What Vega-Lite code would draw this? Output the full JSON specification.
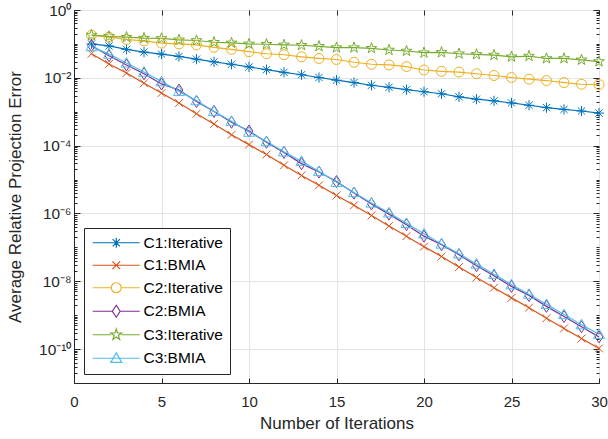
{
 "$schema": "https://vega.github.io/schema/vega-lite/v6.json",
 "width": 525, "height": 373,
 "autosize": {"type": "none"},
 "padding": {"left": 74, "top": 10, "right": 9, "bottom": 56},
 "background": "white",
 "config": {
  "font": "Liberation Sans",
  "view": {"stroke": "#262626", "strokeWidth": 1},
  "axis": {"domainColor": "#262626", "tickColor": "#262626", "labelColor": "#262626", "titleColor": "#262626", "labelFont": "Liberation Sans", "titleFont": "Liberation Sans", "labelFontSize": 15, "titleFontSize": 17, "titleFontWeight": "normal", "gridColor": "#e3e3e3", "gridWidth": 1, "labelFlush": false, "labelOverlap": false},
  "legend": {"orient": "none", "legendX": 10, "legendY": 218, "strokeColor": "#262626", "fillColor": "white", "padding": 7, "labelFontSize": 15.5, "labelFont": "Liberation Sans", "labelColor": "#000000", "symbolSize": 144, "labelOffset": 37, "rowPadding": 5.5, "symbolFillColor": "transparent", "symbolStrokeWidth": 1.2, "symbolOpacity": 1, "labelExpr": "datum.label + ' '"}
 },
 "data": {"values": [
  {"series":"C1:Iterative","iter":1,"err":1.00e-1},{"series":"C1:Iterative","iter":2,"err":8.71e-2},{"series":"C1:Iterative","iter":3,"err":6.92e-2},{"series":"C1:Iterative","iter":4,"err":5.75e-2},{"series":"C1:Iterative","iter":5,"err":5.01e-2},{"series":"C1:Iterative","iter":6,"err":4.27e-2},{"series":"C1:Iterative","iter":7,"err":3.55e-2},{"series":"C1:Iterative","iter":8,"err":2.95e-2},{"series":"C1:Iterative","iter":9,"err":2.51e-2},{"series":"C1:Iterative","iter":10,"err":2.09e-2},{"series":"C1:Iterative","iter":11,"err":1.74e-2},{"series":"C1:Iterative","iter":12,"err":1.45e-2},{"series":"C1:Iterative","iter":13,"err":1.23e-2},{"series":"C1:Iterative","iter":14,"err":1.02e-2},{"series":"C1:Iterative","iter":15,"err":8.51e-3},{"series":"C1:Iterative","iter":16,"err":7.24e-3},{"series":"C1:Iterative","iter":17,"err":6.03e-3},{"series":"C1:Iterative","iter":18,"err":5.25e-3},{"series":"C1:Iterative","iter":19,"err":4.47e-3},{"series":"C1:Iterative","iter":20,"err":3.89e-3},{"series":"C1:Iterative","iter":21,"err":3.39e-3},{"series":"C1:Iterative","iter":22,"err":2.75e-3},{"series":"C1:Iterative","iter":23,"err":2.34e-3},{"series":"C1:Iterative","iter":24,"err":2.09e-3},{"series":"C1:Iterative","iter":25,"err":1.82e-3},{"series":"C1:Iterative","iter":26,"err":1.55e-3},{"series":"C1:Iterative","iter":27,"err":1.32e-3},{"series":"C1:Iterative","iter":28,"err":1.17e-3},{"series":"C1:Iterative","iter":29,"err":1.05e-3},{"series":"C1:Iterative","iter":30,"err":9.12e-4},
  {"series":"C1:BMIA","iter":1,"err":5.13e-2},{"series":"C1:BMIA","iter":2,"err":2.57e-2},{"series":"C1:BMIA","iter":3,"err":1.38e-2},{"series":"C1:BMIA","iter":4,"err":6.92e-3},{"series":"C1:BMIA","iter":5,"err":3.55e-3},{"series":"C1:BMIA","iter":6,"err":1.82e-3},{"series":"C1:BMIA","iter":7,"err":8.71e-4},{"series":"C1:BMIA","iter":8,"err":4.37e-4},{"series":"C1:BMIA","iter":9,"err":2.09e-4},{"series":"C1:BMIA","iter":10,"err":1.07e-4},{"series":"C1:BMIA","iter":11,"err":5.50e-5},{"series":"C1:BMIA","iter":12,"err":2.63e-5},{"series":"C1:BMIA","iter":13,"err":1.32e-5},{"series":"C1:BMIA","iter":14,"err":6.76e-6},{"series":"C1:BMIA","iter":15,"err":3.39e-6},{"series":"C1:BMIA","iter":16,"err":1.74e-6},{"series":"C1:BMIA","iter":17,"err":8.71e-7},{"series":"C1:BMIA","iter":18,"err":4.27e-7},{"series":"C1:BMIA","iter":19,"err":2.14e-7},{"series":"C1:BMIA","iter":20,"err":1.05e-7},{"series":"C1:BMIA","iter":21,"err":5.37e-8},{"series":"C1:BMIA","iter":22,"err":2.63e-8},{"series":"C1:BMIA","iter":23,"err":1.29e-8},{"series":"C1:BMIA","iter":24,"err":6.46e-9},{"series":"C1:BMIA","iter":25,"err":3.24e-9},{"series":"C1:BMIA","iter":26,"err":1.66e-9},{"series":"C1:BMIA","iter":27,"err":8.13e-10},{"series":"C1:BMIA","iter":28,"err":4.07e-10},{"series":"C1:BMIA","iter":29,"err":2.04e-10},{"series":"C1:BMIA","iter":30,"err":1.05e-10},
  {"series":"C2:Iterative","iter":1,"err":1.82e-1},{"series":"C2:Iterative","iter":2,"err":1.58e-1},{"series":"C2:Iterative","iter":3,"err":1.35e-1},{"series":"C2:Iterative","iter":4,"err":1.23e-1},{"series":"C2:Iterative","iter":5,"err":1.05e-1},{"series":"C2:Iterative","iter":6,"err":1.00e-1},{"series":"C2:Iterative","iter":7,"err":9.33e-2},{"series":"C2:Iterative","iter":8,"err":7.94e-2},{"series":"C2:Iterative","iter":9,"err":6.92e-2},{"series":"C2:Iterative","iter":10,"err":5.89e-2},{"series":"C2:Iterative","iter":11,"err":5.13e-2},{"series":"C2:Iterative","iter":12,"err":4.79e-2},{"series":"C2:Iterative","iter":13,"err":4.17e-2},{"series":"C2:Iterative","iter":14,"err":3.72e-2},{"series":"C2:Iterative","iter":15,"err":3.47e-2},{"series":"C2:Iterative","iter":16,"err":2.88e-2},{"series":"C2:Iterative","iter":17,"err":2.51e-2},{"series":"C2:Iterative","iter":18,"err":2.40e-2},{"series":"C2:Iterative","iter":19,"err":2.14e-2},{"series":"C2:Iterative","iter":20,"err":1.70e-2},{"series":"C2:Iterative","iter":21,"err":1.55e-2},{"series":"C2:Iterative","iter":22,"err":1.48e-2},{"series":"C2:Iterative","iter":23,"err":1.32e-2},{"series":"C2:Iterative","iter":24,"err":1.17e-2},{"series":"C2:Iterative","iter":25,"err":1.02e-2},{"series":"C2:Iterative","iter":26,"err":9.12e-3},{"series":"C2:Iterative","iter":27,"err":8.32e-3},{"series":"C2:Iterative","iter":28,"err":7.24e-3},{"series":"C2:Iterative","iter":29,"err":6.46e-3},{"series":"C2:Iterative","iter":30,"err":6.31e-3},
  {"series":"C2:BMIA","iter":1,"err":8.91e-2},{"series":"C2:BMIA","iter":2,"err":4.47e-2},{"series":"C2:BMIA","iter":3,"err":2.40e-2},{"series":"C2:BMIA","iter":4,"err":1.32e-2},{"series":"C2:BMIA","iter":5,"err":6.61e-3},{"series":"C2:BMIA","iter":6,"err":4.37e-3},{"series":"C2:BMIA","iter":7,"err":2.00e-3},{"series":"C2:BMIA","iter":8,"err":1.02e-3},{"series":"C2:BMIA","iter":9,"err":4.90e-4},{"series":"C2:BMIA","iter":10,"err":2.69e-4},{"series":"C2:BMIA","iter":11,"err":1.26e-4},{"series":"C2:BMIA","iter":12,"err":6.31e-5},{"series":"C2:BMIA","iter":13,"err":2.95e-5},{"series":"C2:BMIA","iter":14,"err":1.66e-5},{"series":"C2:BMIA","iter":15,"err":8.71e-6},{"series":"C2:BMIA","iter":16,"err":3.98e-6},{"series":"C2:BMIA","iter":17,"err":1.91e-6},{"series":"C2:BMIA","iter":18,"err":9.55e-7},{"series":"C2:BMIA","iter":19,"err":4.68e-7},{"series":"C2:BMIA","iter":20,"err":2.14e-7},{"series":"C2:BMIA","iter":21,"err":1.20e-7},{"series":"C2:BMIA","iter":22,"err":6.03e-8},{"series":"C2:BMIA","iter":23,"err":2.88e-8},{"series":"C2:BMIA","iter":24,"err":1.45e-8},{"series":"C2:BMIA","iter":25,"err":7.08e-9},{"series":"C2:BMIA","iter":26,"err":3.80e-9},{"series":"C2:BMIA","iter":27,"err":1.82e-9},{"series":"C2:BMIA","iter":28,"err":9.12e-10},{"series":"C2:BMIA","iter":29,"err":4.57e-10},{"series":"C2:BMIA","iter":30,"err":2.29e-10},
  {"series":"C3:Iterative","iter":1,"err":1.82e-1},{"series":"C3:Iterative","iter":2,"err":1.66e-1},{"series":"C3:Iterative","iter":3,"err":1.58e-1},{"series":"C3:Iterative","iter":4,"err":1.48e-1},{"series":"C3:Iterative","iter":5,"err":1.45e-1},{"series":"C3:Iterative","iter":6,"err":1.32e-1},{"series":"C3:Iterative","iter":7,"err":1.26e-1},{"series":"C3:Iterative","iter":8,"err":1.12e-1},{"series":"C3:Iterative","iter":9,"err":1.07e-1},{"series":"C3:Iterative","iter":10,"err":1.00e-1},{"series":"C3:Iterative","iter":11,"err":9.77e-2},{"series":"C3:Iterative","iter":12,"err":9.33e-2},{"series":"C3:Iterative","iter":13,"err":9.12e-2},{"series":"C3:Iterative","iter":14,"err":8.51e-2},{"series":"C3:Iterative","iter":15,"err":7.76e-2},{"series":"C3:Iterative","iter":16,"err":7.76e-2},{"series":"C3:Iterative","iter":17,"err":7.41e-2},{"series":"C3:Iterative","iter":18,"err":6.61e-2},{"series":"C3:Iterative","iter":19,"err":6.17e-2},{"series":"C3:Iterative","iter":20,"err":5.50e-2},{"series":"C3:Iterative","iter":21,"err":5.62e-2},{"series":"C3:Iterative","iter":22,"err":5.13e-2},{"series":"C3:Iterative","iter":23,"err":4.90e-2},{"series":"C3:Iterative","iter":24,"err":4.68e-2},{"series":"C3:Iterative","iter":25,"err":4.17e-2},{"series":"C3:Iterative","iter":26,"err":4.37e-2},{"series":"C3:Iterative","iter":27,"err":3.72e-2},{"series":"C3:Iterative","iter":28,"err":3.72e-2},{"series":"C3:Iterative","iter":29,"err":3.39e-2},{"series":"C3:Iterative","iter":30,"err":3.02e-2},
  {"series":"C3:BMIA","iter":1,"err":8.32e-2},{"series":"C3:BMIA","iter":2,"err":5.01e-2},{"series":"C3:BMIA","iter":3,"err":2.75e-2},{"series":"C3:BMIA","iter":4,"err":1.48e-2},{"series":"C3:BMIA","iter":5,"err":7.76e-3},{"series":"C3:BMIA","iter":6,"err":3.98e-3},{"series":"C3:BMIA","iter":7,"err":2.14e-3},{"series":"C3:BMIA","iter":8,"err":1.02e-3},{"series":"C3:BMIA","iter":9,"err":5.25e-4},{"series":"C3:BMIA","iter":10,"err":2.51e-4},{"series":"C3:BMIA","iter":11,"err":1.32e-4},{"series":"C3:BMIA","iter":12,"err":6.61e-5},{"series":"C3:BMIA","iter":13,"err":3.47e-5},{"series":"C3:BMIA","iter":14,"err":1.74e-5},{"series":"C3:BMIA","iter":15,"err":8.32e-6},{"series":"C3:BMIA","iter":16,"err":4.17e-6},{"series":"C3:BMIA","iter":17,"err":2.04e-6},{"series":"C3:BMIA","iter":18,"err":1.05e-6},{"series":"C3:BMIA","iter":19,"err":5.13e-7},{"series":"C3:BMIA","iter":20,"err":2.51e-7},{"series":"C3:BMIA","iter":21,"err":1.26e-7},{"series":"C3:BMIA","iter":22,"err":6.46e-8},{"series":"C3:BMIA","iter":23,"err":3.24e-8},{"series":"C3:BMIA","iter":24,"err":1.62e-8},{"series":"C3:BMIA","iter":25,"err":7.94e-9},{"series":"C3:BMIA","iter":26,"err":4.17e-9},{"series":"C3:BMIA","iter":27,"err":2.09e-9},{"series":"C3:BMIA","iter":28,"err":1.05e-9},{"series":"C3:BMIA","iter":29,"err":5.25e-10},{"series":"C3:BMIA","iter":30,"err":2.75e-10}
 ]},
 "layer": [
  {
   "mark": {"type": "line", "strokeWidth": 1.2, "clip": true},
   "encoding": {
    "x": {"field": "iter", "type": "quantitative", "scale": {"domain": [0, 30], "nice": false, "zero": false},
     "axis": {"orient": "bottom", "values": [0, 5, 10, 15, 20, 25, 30], "title": "Number of Iterations", "grid": true, "tickSize": -5, "labelPadding": 16, "titlePadding": 6}},
    "y": {"field": "err", "type": "quantitative", "scale": {"type": "log", "domain": [1e-11, 1], "nice": false},
     "axis": {"orient": "left", "title": "Average Relative Projection Error", "grid": true, "labelPadding": 9, "titlePadding": 14, "labelFontSize": 15.5,
      "values": [1e-11,2e-11,3e-11,4e-11,5e-11,6e-11,7e-11,8e-11,9e-11,1e-10,2e-10,3e-10,4e-10,5e-10,6e-10,7e-10,8e-10,9e-10,1e-9,2e-9,3e-9,4e-9,5e-9,6e-9,7e-9,8e-9,9e-9,1e-8,2e-8,3e-8,4e-8,5e-8,6e-8,7e-8,8e-8,9e-8,1e-7,2e-7,3e-7,4e-7,5e-7,6e-7,7e-7,8e-7,9e-7,1e-6,2e-6,3e-6,4e-6,5e-6,6e-6,7e-6,8e-6,9e-6,1e-5,2e-5,3e-5,4e-5,5e-5,6e-5,7e-5,8e-5,9e-5,1e-4,2e-4,3e-4,4e-4,5e-4,6e-4,7e-4,8e-4,9e-4,1e-3,2e-3,3e-3,4e-3,5e-3,6e-3,7e-3,8e-3,9e-3,1e-2,2e-2,3e-2,4e-2,5e-2,6e-2,7e-2,8e-2,9e-2,1e-1,2e-1,3e-1,4e-1,5e-1,6e-1,7e-1,8e-1,9e-1,1],
      "labelExpr": "(abs(log(datum.value)/LN10-round(log(datum.value)/LN10))<0.01 && round(log(datum.value)/LN10)%2==0) ? '10' + (round(log(datum.value)/LN10)==0 ? '⁰' : round(log(datum.value)/LN10)==-2 ? '⁻²' : round(log(datum.value)/LN10)==-4 ? '⁻⁴' : round(log(datum.value)/LN10)==-6 ? '⁻⁶' : round(log(datum.value)/LN10)==-8 ? '⁻⁸' : '⁻¹⁰') : ''",
      "gridOpacity": {"condition": {"test": "abs(log(datum.value)/LN10-round(log(datum.value)/LN10))<0.01 && round(log(datum.value)/LN10)%2==0", "value": 1}, "value": 0},
      "tickSize": {"condition": {"test": "abs(log(datum.value)/LN10-round(log(datum.value)/LN10))<0.01 && round(log(datum.value)/LN10)%2==0", "value": -6}, "value": -3}
     }},
    "color": {"field": "series", "type": "nominal", "legend": {"title": null},
     "scale": {"domain": ["C1:Iterative", "C1:BMIA", "C2:Iterative", "C2:BMIA", "C3:Iterative", "C3:BMIA"], "range": ["#0072BD", "#D95319", "#EDB120", "#7E2F8E", "#77AC30", "#4DBEEE"]}}
   }
  },
  {
   "transform": [{"filter": "datum.series === 'C1:Iterative'"}],
   "mark": {"type": "point", "filled": false, "strokeWidth": 1, "size": 144, "opacity": 1, "shape": "M-0.85,0L0.85,0M0,-0.85L0,0.85M-0.6,-0.6L0.6,0.6M-0.6,0.6L0.6,-0.6"},
   "encoding": {"x": {"field": "iter", "type": "quantitative", "axis": null}, "y": {"field": "err", "type": "quantitative", "axis": null}, "color": {"field": "series", "type": "nominal", "legend": {"title": null}}}
  },
  {
   "transform": [{"filter": "datum.series === 'C1:BMIA'"}],
   "mark": {"type": "point", "filled": false, "strokeWidth": 1, "size": 144, "opacity": 1, "shape": "M-0.65,-0.65L0.65,0.65M-0.65,0.65L0.65,-0.65"},
   "encoding": {"x": {"field": "iter", "type": "quantitative", "axis": null}, "y": {"field": "err", "type": "quantitative", "axis": null}, "color": {"field": "series", "type": "nominal", "legend": {"title": null}}}
  },
  {
   "transform": [{"filter": "datum.series === 'C2:Iterative'"}],
   "mark": {"type": "point", "filled": false, "strokeWidth": 1, "size": 144, "opacity": 1, "shape": "M0.83,0A0.83,0.83,0,1,1,-0.83,0A0.83,0.83,0,1,1,0.83,0Z"},
   "encoding": {"x": {"field": "iter", "type": "quantitative", "axis": null}, "y": {"field": "err", "type": "quantitative", "axis": null}, "color": {"field": "series", "type": "nominal", "legend": {"title": null}}}
  },
  {
   "transform": [{"filter": "datum.series === 'C2:BMIA'"}],
   "mark": {"type": "point", "filled": false, "strokeWidth": 1, "size": 144, "opacity": 1, "shape": "M0,-1L0.65,0L0,1L-0.65,0Z"},
   "encoding": {"x": {"field": "iter", "type": "quantitative", "axis": null}, "y": {"field": "err", "type": "quantitative", "axis": null}, "color": {"field": "series", "type": "nominal", "legend": {"title": null}}}
  },
  {
   "transform": [{"filter": "datum.series === 'C3:Iterative'"}],
   "mark": {"type": "point", "filled": false, "strokeWidth": 1, "size": 144, "opacity": 1, "shape": "M0,-0.95L0.214,-0.294L0.903,-0.294L0.345,0.112L0.559,0.769L0,0.363L-0.559,0.769L-0.345,0.112L-0.903,-0.294L-0.214,-0.294Z"},
   "encoding": {"x": {"field": "iter", "type": "quantitative", "axis": null}, "y": {"field": "err", "type": "quantitative", "axis": null}, "color": {"field": "series", "type": "nominal", "legend": {"title": null}}}
  },
  {
   "transform": [{"filter": "datum.series === 'C3:BMIA'"}],
   "mark": {"type": "point", "filled": false, "strokeWidth": 1, "size": 144, "opacity": 1, "shape": "M0,-0.9L0.92,0.7L-0.92,0.7Z"},
   "encoding": {"x": {"field": "iter", "type": "quantitative", "axis": null}, "y": {"field": "err", "type": "quantitative", "axis": null}, "color": {"field": "series", "type": "nominal", "legend": {"title": null}}}
  },
  {
   "mark": {"type": "point", "filled": false, "strokeWidth": 1.2, "size": 144, "opacity": 0},
   "encoding": {
    "x": {"field": "iter", "type": "quantitative",
     "axis": {"orient": "top", "values": [0, 5, 10, 15, 20, 25, 30], "title": null, "labels": false, "grid": false, "domain": false, "tickSize": -5}},
    "y": {"field": "err", "type": "quantitative",
     "axis": {"orient": "right", "title": null, "labels": false, "grid": false, "domain": false,
      "values": [1e-11,2e-11,3e-11,4e-11,5e-11,6e-11,7e-11,8e-11,9e-11,1e-10,2e-10,3e-10,4e-10,5e-10,6e-10,7e-10,8e-10,9e-10,1e-9,2e-9,3e-9,4e-9,5e-9,6e-9,7e-9,8e-9,9e-9,1e-8,2e-8,3e-8,4e-8,5e-8,6e-8,7e-8,8e-8,9e-8,1e-7,2e-7,3e-7,4e-7,5e-7,6e-7,7e-7,8e-7,9e-7,1e-6,2e-6,3e-6,4e-6,5e-6,6e-6,7e-6,8e-6,9e-6,1e-5,2e-5,3e-5,4e-5,5e-5,6e-5,7e-5,8e-5,9e-5,1e-4,2e-4,3e-4,4e-4,5e-4,6e-4,7e-4,8e-4,9e-4,1e-3,2e-3,3e-3,4e-3,5e-3,6e-3,7e-3,8e-3,9e-3,1e-2,2e-2,3e-2,4e-2,5e-2,6e-2,7e-2,8e-2,9e-2,1e-1,2e-1,3e-1,4e-1,5e-1,6e-1,7e-1,8e-1,9e-1,1],
      "tickSize": {"condition": {"test": "abs(log(datum.value)/LN10-round(log(datum.value)/LN10))<0.01 && round(log(datum.value)/LN10)%2==0", "value": -6}, "value": -3}
     }},
    "color": {"field": "series", "type": "nominal", "legend": {"title": null}},
    "shape": {"field": "series", "type": "nominal", "legend": {"title": null},
     "scale": {"domain": ["C1:Iterative", "C1:BMIA", "C2:Iterative", "C2:BMIA", "C3:Iterative", "C3:BMIA"],
      "range": ["M-1,0L6.83,0M2.07,0L3.77,0M2.92,-0.85L2.92,0.85M2.32,-0.6L3.52,0.6M2.32,0.6L3.52,-0.6", "M-1,0L6.83,0M2.27,-0.65L3.57,0.65M2.27,0.65L3.57,-0.65", "M-1,0L2.09,0M3.75,0L6.83,0M3.75,0A0.83,0.83,0,1,1,2.09,0A0.83,0.83,0,1,1,3.75,0", "M-1,0L2.27,0M3.57,0L6.83,0M2.92,-1L3.57,0L2.92,1L2.27,0Z", "M-1,0L2.05,0M3.8,0L6.83,0M2.92,-0.95L3.134,-0.294L3.823,-0.294L3.265,0.112L3.479,0.769L2.92,0.363L2.361,0.769L2.575,0.112L2.017,-0.294L2.706,-0.294Z", "M-1,0L6.83,0M2.92,-0.9L3.84,0.7L2.0,0.7Z"]}}
   }
  }
 ],
 "resolve": {"axis": {"x": "independent", "y": "independent"}}
}
